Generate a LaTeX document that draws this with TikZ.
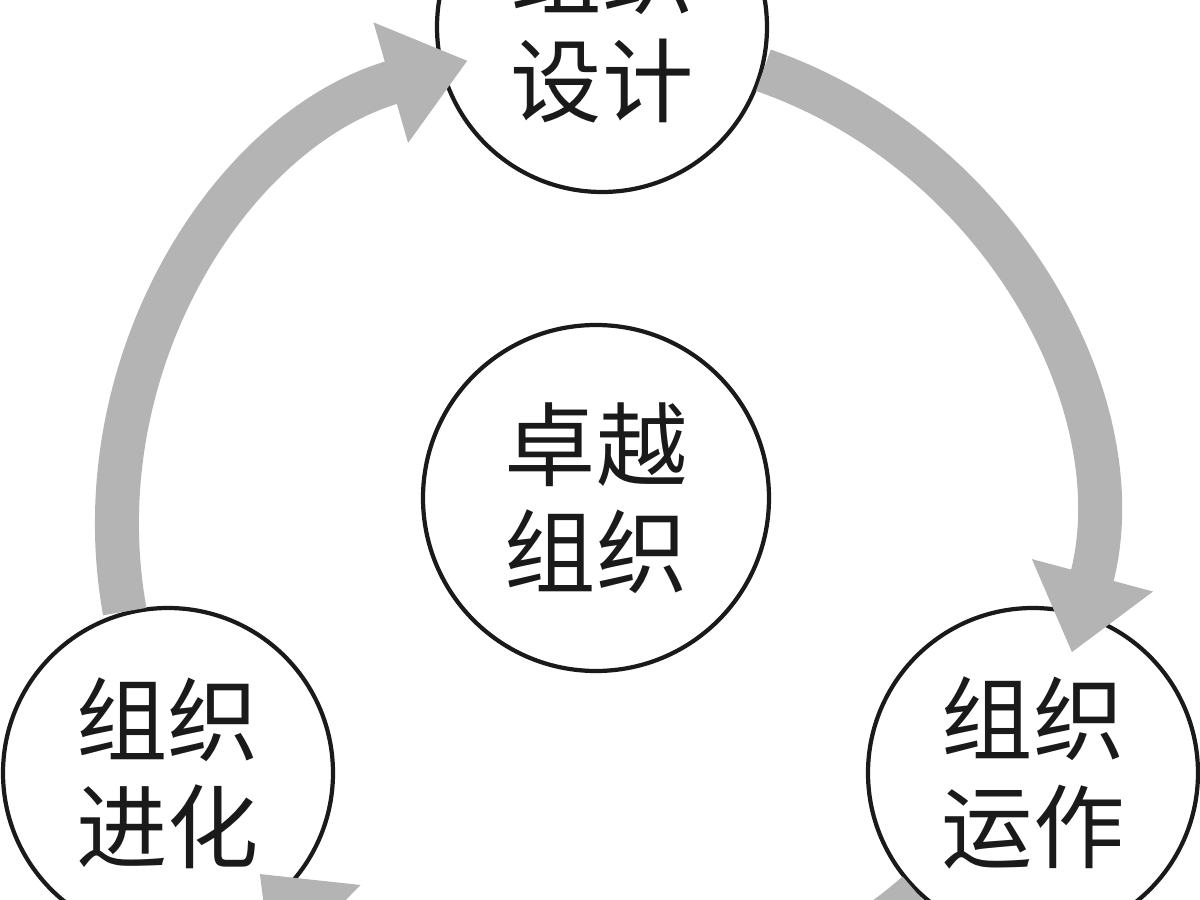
\documentclass[tikz,border=0pt]{standalone}
\usepackage{fontspec}
\setmainfont{Noto Sans CJK SC}
\usetikzlibrary{arrows.meta}
\definecolor{ink}{HTML}{1A1A1A}
\definecolor{band}{HTML}{B4B4B4}
\tikzset{
  nd/.style={circle,draw=ink,line width=1.2pt,fill=white,minimum size=33mm,inner sep=0pt,align=center,font=\fontsize{26}{30.5}\selectfont,text=ink},
  ndc/.style={nd,minimum size=34.6mm},
  ar/.style={-{Triangle[length=8mm,width=12mm]},draw=band,line width=4.4mm},
}

\begin{document}
\begin{tikzpicture}
  \useasboundingbox (0,0) rectangle (12,9);

  \node[nd] (design) at (6.02,8.73) {组织\\设计};
  \node[ndc] (core) at (5.96,4.02) {卓越\\组织};
  \node[nd] (oper) at (10.33,1.27) {组织\\运作};
  \node[nd] (evol) at (1.68,1.27) {组织\\进化};

  % ring of arrows, radius 4.84 round (6.02,3.72)
  \draw[ar] (evol.105) arc[start angle=190.2,end angle=106,radius=4.84];
  \draw[ar] (design.-15.5) arc[start angle=70.8,end angle=-15,radius=4.84];
  \draw[ar] (oper.226.7) arc[start angle=311.1,end angle=225.5,radius=4.84];
\end{tikzpicture}
\end{document}
